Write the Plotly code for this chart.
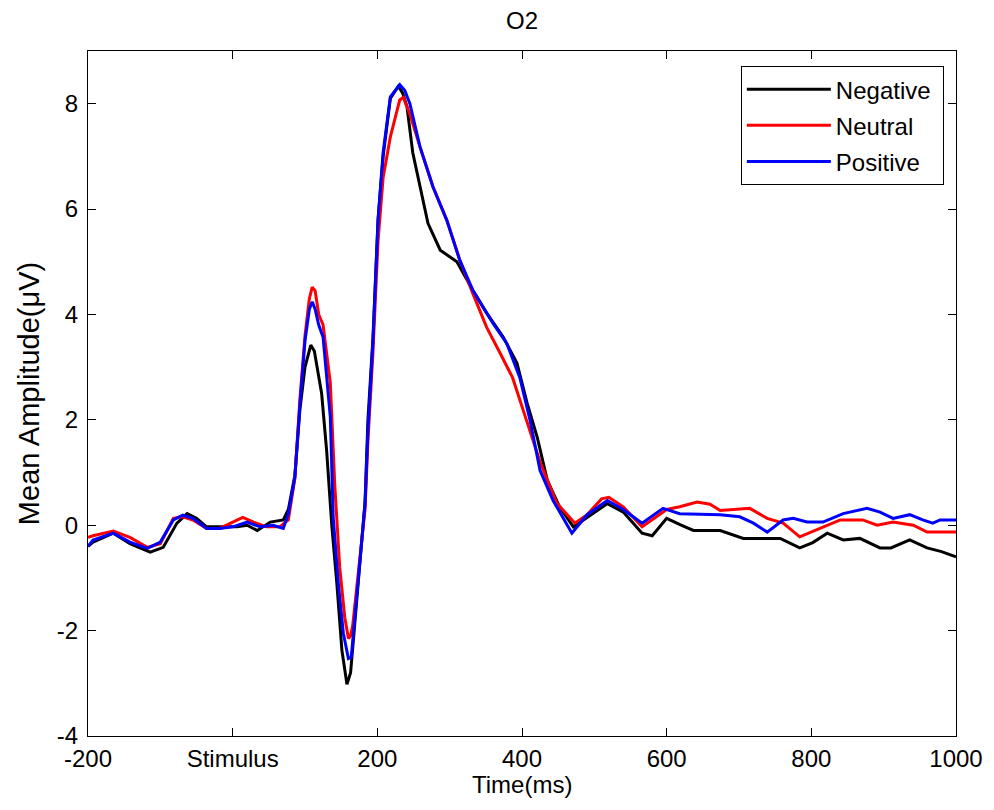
import plotly.graph_objects as go

# ---- data ----
t_neg = [-200, -193, -165, -142, -114, -96, -77, -63, -50, -36, -18, 6, 20, 34, 52, 70, 77, 86, 93, 100,
         108, 113, 118, 123, 130, 137, 144, 151, 158, 163, 168, 176, 183, 187, 194, 201, 208, 218, 229, 235,
         241, 249, 259, 270, 287, 310, 332, 351, 374, 393, 407, 421, 435, 452, 471, 490, 518, 540, 566, 580,
         600, 620, 637, 674, 706, 757, 784, 802, 822, 844, 867, 895, 910, 936, 960, 980, 1000]
v_neg = [-0.40, -0.32, -0.15, -0.35, -0.51, -0.42, 0.04, 0.22, 0.13, -0.03, -0.03, -0.03, 0.0, -0.10, 0.06, 0.10, 0.30, 0.95, 2.2, 3.0,
         3.42, 3.3, 2.9, 2.5, 1.4, 0.0, -1.1, -2.37, -3.02, -2.8, -2.0, -0.7, 0.45, 2.0, 3.57, 5.8, 7.0, 8.1, 8.33, 8.2,
         7.94, 7.07, 6.42, 5.73, 5.22, 5.0, 4.46, 4.03, 3.57, 3.08, 2.32, 1.67, 0.85, 0.35, -0.03, 0.15, 0.41, 0.25, -0.15, -0.2,
         0.13, 0.0, -0.1, -0.1, -0.25, -0.25, -0.43, -0.33, -0.15, -0.28, -0.25, -0.43, -0.43, -0.28, -0.43, -0.5, -0.6]

t_neu = [-200, -193, -165, -142, -118, -100, -82, -69, -55, -36, -18, 0, 14, 29, 47, 65, 77, 86, 93, 100,
         106, 110, 114, 119, 125, 135, 141, 148, 155, 160, 163, 166, 176, 183, 187, 194, 201, 208, 218, 231,
         236, 245, 259, 277, 296, 314, 332, 351, 370, 387, 406, 425, 448, 473, 490, 510, 520, 540, 566, 580,
         600, 618, 642, 660, 674, 715, 739, 761, 784, 812, 840, 871, 891, 913, 941, 960, 1000]
v_neu = [-0.23, -0.2, -0.11, -0.23, -0.42, -0.35, 0.13, 0.16, 0.10, -0.06, -0.06, 0.06, 0.15, 0.06, -0.03, -0.03, 0.10, 0.9, 2.4, 3.6,
         4.3, 4.52, 4.45, 4.0, 3.8, 2.7, 0.8, -0.8, -1.75, -2.15, -2.1, -1.9, -0.66, 0.3, 1.6, 3.3, 5.4, 6.6, 7.37, 8.07,
         8.12, 7.8, 7.18, 6.42, 5.79, 5.03, 4.40, 3.76, 3.26, 2.8, 2.0, 1.2, 0.42, 0.04, 0.2, 0.5, 0.53, 0.35, -0.03, 0.1,
         0.3, 0.35, 0.44, 0.4, 0.28, 0.32, 0.13, 0.04, -0.22, -0.06, 0.1, 0.1, 0.0, 0.06, 0.0, -0.13, -0.13]

t_pos = [-200, -193, -165, -142, -118, -100, -82, -69, -55, -36, -18, 0, 20, 38, 56, 70, 77, 86, 93, 100,
         106, 110, 114, 119, 125, 135, 139, 146, 153, 160, 164, 168, 176, 183, 187, 194, 201, 208, 218, 231,
         238, 245, 259, 277, 296, 314, 332, 360, 379, 397, 411, 425, 443, 469, 490, 518, 540, 566, 595, 618,
         674, 701, 720, 739, 761, 775, 794, 816, 844, 877, 895, 913, 936, 954, 968, 978, 1000]
v_pos = [-0.4, -0.28, -0.15, -0.32, -0.44, -0.32, 0.1, 0.19, 0.13, -0.06, -0.06, -0.03, 0.06, -0.03, 0.0, -0.06, 0.22, 0.9, 2.3, 3.5,
         4.1, 4.24, 4.1, 3.8, 3.57, 2.05, 0.15, -1.1, -2.05, -2.53, -2.5, -1.9, -0.66, 0.4, 1.8, 3.5, 5.8, 7.07, 8.13, 8.36,
         8.25, 8.0, 7.18, 6.42, 5.79, 5.03, 4.46, 3.83, 3.45, 2.8, 2.0, 1.04, 0.47, -0.15, 0.2, 0.47, 0.3, 0.04, 0.32, 0.22,
         0.2, 0.16, 0.04, -0.13, 0.1, 0.13, 0.06, 0.06, 0.22, 0.32, 0.25, 0.13, 0.2, 0.1, 0.04, 0.1, 0.1]

series_names = ["Negative", "Neutral", "Positive"]
series_colors = ["#000000", "#ff0000", "#0000ff"]

x_tick_vals = [-200, 0, 200, 400, 600, 800, 1000]
x_tick_text = ["-200", "Stimulus", "200", "400", "600", "800", "1000"]
y_tick_vals = [-4, -2, 0, 2, 4, 6, 8]
y_tick_text = ["-4", "-2", "0", "2", "4", "6", "8"]

FONT = "Liberation Sans, Arial, sans-serif"
FS = 24

fig = go.Figure()
for name, color, t, v in zip(series_names, series_colors, [t_neg, t_neu, t_pos], [v_neg, v_neu, v_pos]):
    fig.add_trace(go.Scatter(x=t, y=v, mode="lines", name=name + " ", legendgroup=name,
                             line=dict(color=color, width=3)))

axis_common = dict(showline=True, linecolor="black", linewidth=1, mirror="ticks",
                   ticks="inside", ticklen=8, tickcolor="black", showgrid=False, zeroline=False,
                   tickfont=dict(family=FONT, size=FS, color="black"))

fig.update_layout(
    width=994, height=810,
    paper_bgcolor="white", plot_bgcolor="white",
    margin=dict(l=88, r=38, t=51, b=74),
    font=dict(family=FONT, size=FS, color="black"),
    title=dict(text="O2", x=0.5, xref="paper", xanchor="center", y=0.975, yanchor="middle",
               font=dict(family=FONT, size=FS, color="black")),
    xaxis=dict(range=[-200, 1000], tickvals=x_tick_vals, ticktext=x_tick_text,
               ticklabelstandoff=1, **axis_common),
    yaxis=dict(range=[-4, 9], tickvals=y_tick_vals, ticktext=y_tick_text,
               title=dict(text="Mean Amplitude(μV)", standoff=8), ticklabelstandoff=4, **axis_common),
    legend=dict(x=0.986, y=0.978, xanchor="right", yanchor="top",
                bgcolor="white", bordercolor="black", borderwidth=1,
                font=dict(family=FONT, size=FS, color="black"),
                traceorder="grouped", tracegroupgap=2, itemwidth=84),
    annotations=[dict(text="Time(ms)", x=0.5, y=0, xref="paper", yref="paper",
                      xanchor="center", yanchor="top", yshift=-33, showarrow=False,
                      font=dict(family=FONT, size=FS, color="black"))],
    showlegend=True,
)

fig.write_html("out.html")
